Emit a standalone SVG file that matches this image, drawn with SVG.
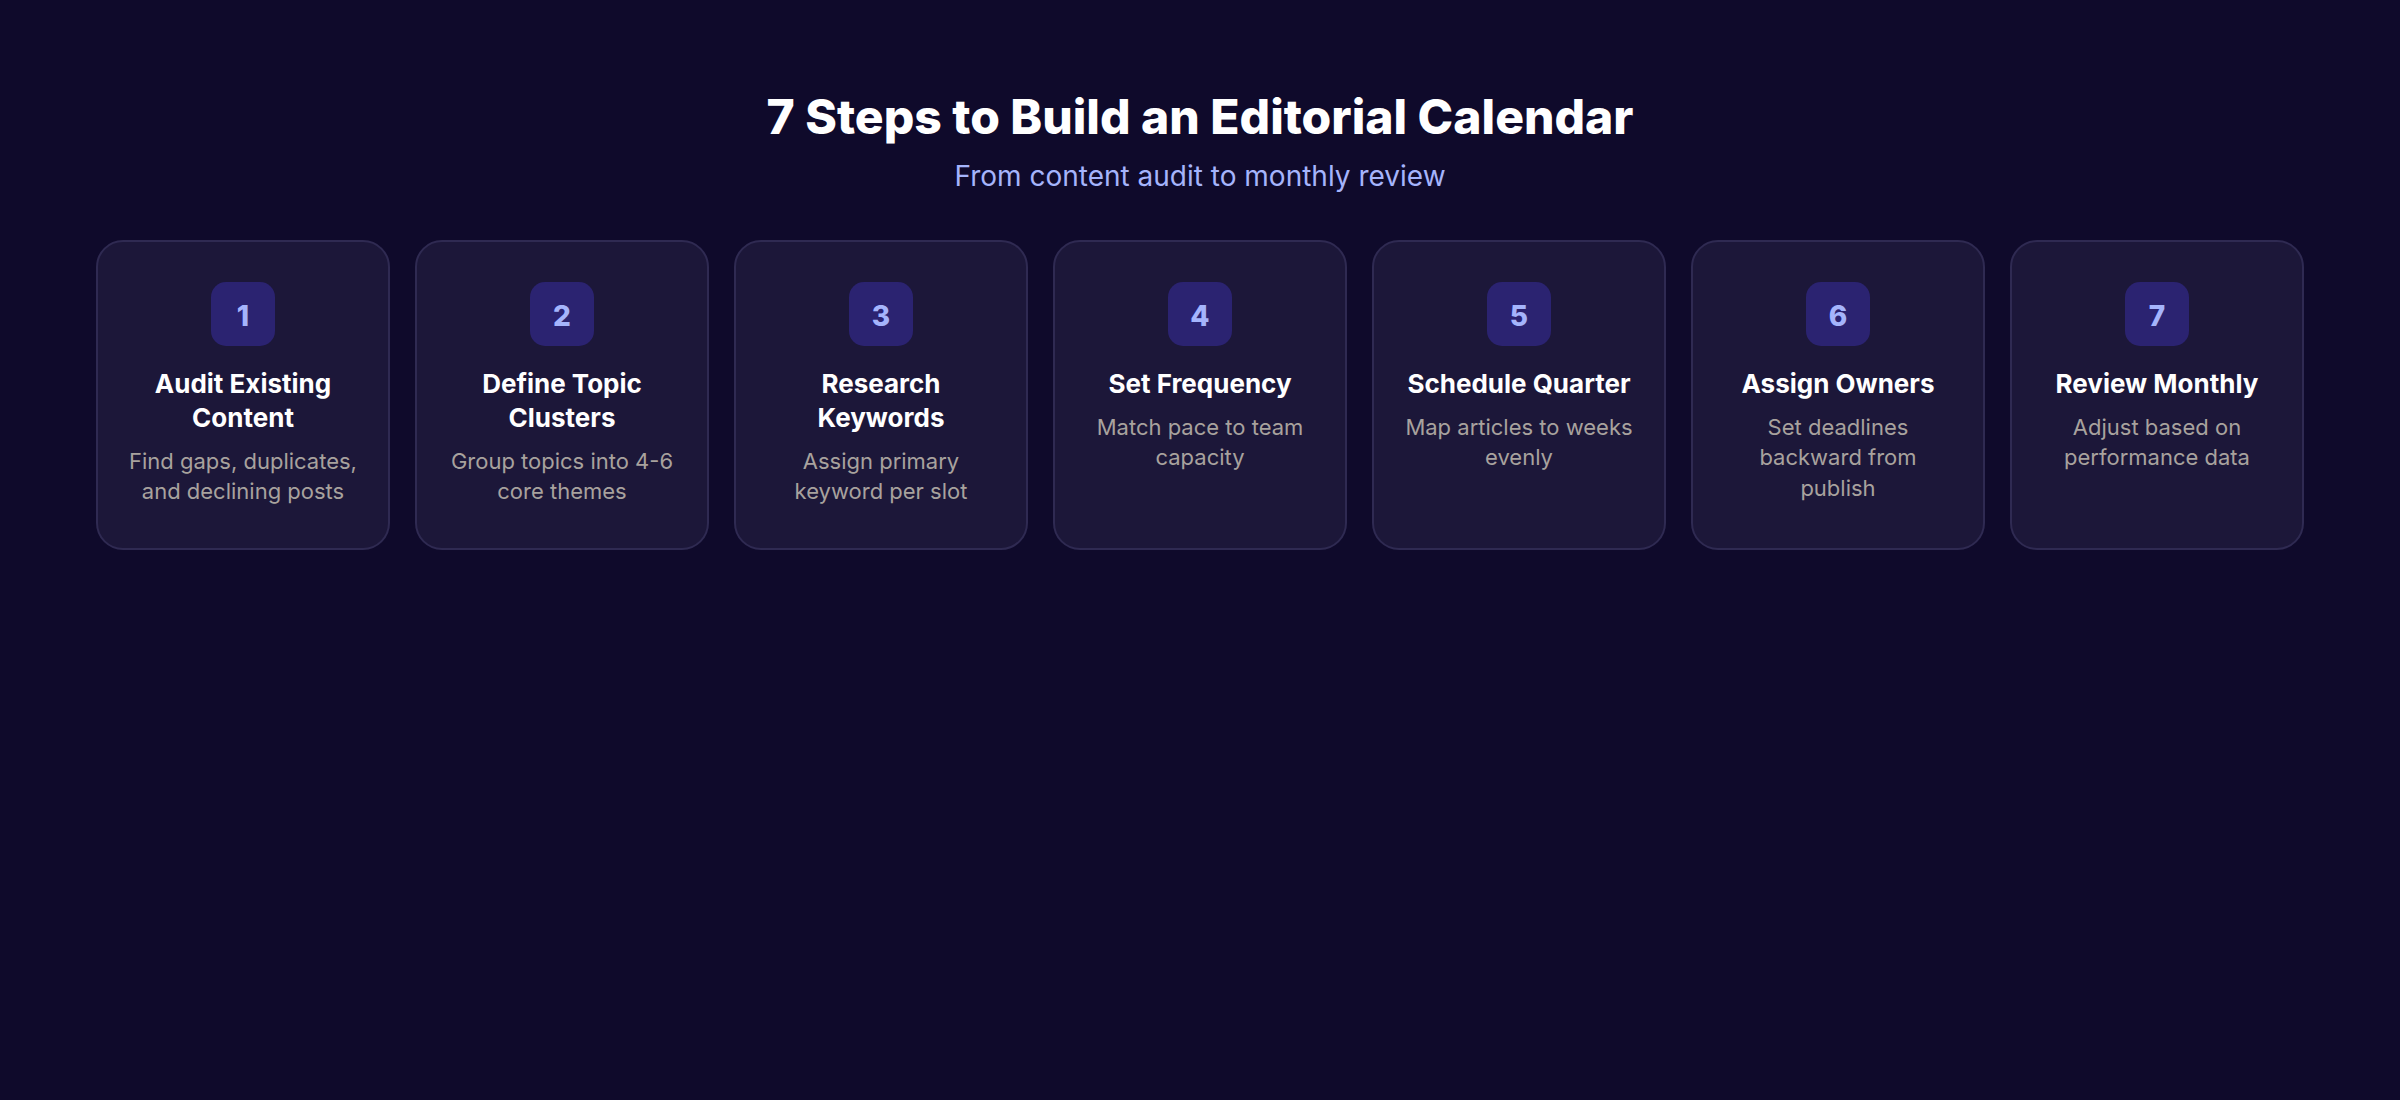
<svg xmlns="http://www.w3.org/2000/svg" width="2400" height="1100" viewBox="0 0 2400 1100">
<style>
.bg{fill:#0f0a2b}
.card{fill:#1c1739;stroke:#2f2a52;stroke-width:2}
.badge{fill:#2b2371}
.num{font-family:Inter,"Noto Sans",sans-serif;font-weight:800;font-size:28px;fill:#a5b4fc;text-anchor:middle}
.t{font-family:Inter,"Noto Sans",sans-serif;font-weight:700;font-size:26px;fill:#ffffff;text-anchor:middle}
.d{font-family:Inter,"Noto Sans",sans-serif;font-weight:400;font-size:22px;fill:#a8a29e;text-anchor:middle}
.h{font-family:Inter,"Noto Sans",sans-serif;font-weight:800;font-size:48px;fill:#ffffff;text-anchor:middle}
.s{font-family:Inter,"Noto Sans",sans-serif;font-weight:400;font-size:28px;fill:#a5b4fc;text-anchor:middle}
</style>
<rect class="bg" x="0" y="0" width="2400" height="1100"/>
<text class="h" x="1200" y="134">7 Steps to Build an Editorial Calendar</text>
<text class="s" x="1200" y="186">From content audit to monthly review</text>
<g id="connectors"/>
<g id="step1">
<rect class="card" x="97" y="241" width="292" height="308" rx="26"/>
<rect class="badge" x="211" y="282" width="64" height="64" rx="15"/>
<text class="num" x="243" y="326">1</text>
<text class="t" x="243" y="393">Audit Existing</text>
<text class="t" x="243" y="427">Content</text>
<text class="d" x="243" y="469">Find gaps, duplicates,</text>
<text class="d" x="243" y="499">and declining posts</text>
</g>
<g id="step2">
<rect class="card" x="416" y="241" width="292" height="308" rx="26"/>
<rect class="badge" x="530" y="282" width="64" height="64" rx="15"/>
<text class="num" x="562" y="326">2</text>
<text class="t" x="562" y="393">Define Topic</text>
<text class="t" x="562" y="427">Clusters</text>
<text class="d" x="562" y="469">Group topics into 4-6</text>
<text class="d" x="562" y="499">core themes</text>
</g>
<g id="step3">
<rect class="card" x="735" y="241" width="292" height="308" rx="26"/>
<rect class="badge" x="849" y="282" width="64" height="64" rx="15"/>
<text class="num" x="881" y="326">3</text>
<text class="t" x="881" y="393">Research</text>
<text class="t" x="881" y="427">Keywords</text>
<text class="d" x="881" y="469">Assign primary</text>
<text class="d" x="881" y="499">keyword per slot</text>
</g>
<g id="step4">
<rect class="card" x="1054" y="241" width="292" height="308" rx="26"/>
<rect class="badge" x="1168" y="282" width="64" height="64" rx="15"/>
<text class="num" x="1200" y="326">4</text>
<text class="t" x="1200" y="393">Set Frequency</text>
<text class="d" x="1200" y="435">Match pace to team</text>
<text class="d" x="1200" y="465">capacity</text>
</g>
<g id="step5">
<rect class="card" x="1373" y="241" width="292" height="308" rx="26"/>
<rect class="badge" x="1487" y="282" width="64" height="64" rx="15"/>
<text class="num" x="1519" y="326">5</text>
<text class="t" x="1519" y="393">Schedule Quarter</text>
<text class="d" x="1519" y="435">Map articles to weeks</text>
<text class="d" x="1519" y="465">evenly</text>
</g>
<g id="step6">
<rect class="card" x="1692" y="241" width="292" height="308" rx="26"/>
<rect class="badge" x="1806" y="282" width="64" height="64" rx="15"/>
<text class="num" x="1838" y="326">6</text>
<text class="t" x="1838" y="393">Assign Owners</text>
<text class="d" x="1838" y="435">Set deadlines</text>
<text class="d" x="1838" y="465">backward from</text>
<text class="d" x="1838" y="496">publish</text>
</g>
<g id="step7">
<rect class="card" x="2011" y="241" width="292" height="308" rx="26"/>
<rect class="badge" x="2125" y="282" width="64" height="64" rx="15"/>
<text class="num" x="2157" y="326">7</text>
<text class="t" x="2157" y="393">Review Monthly</text>
<text class="d" x="2157" y="435">Adjust based on</text>
<text class="d" x="2157" y="465">performance data</text>
</g>
</svg>
